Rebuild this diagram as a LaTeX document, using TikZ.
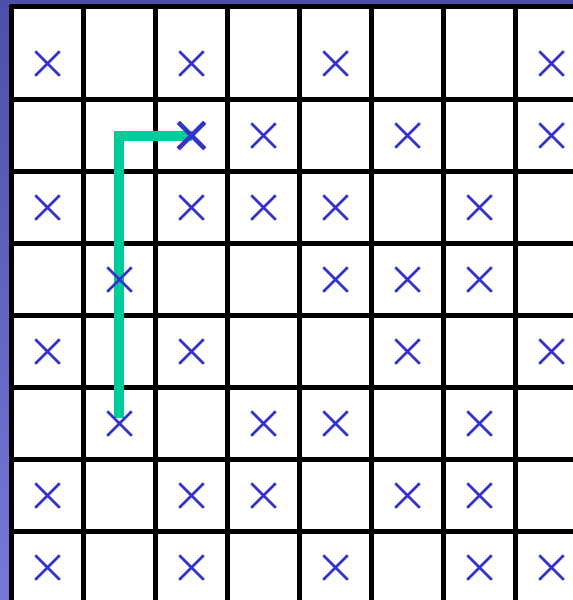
\documentclass[tikz,border=0pt]{standalone}
\usetikzlibrary{shapes.misc}
\definecolor{slidetop}{HTML}{4E4EAC}
\definecolor{slidebottom}{HTML}{7878D8}
\definecolor{markblue}{HTML}{3333CC}
\definecolor{pathgreen}{HTML}{00CC99}
\begin{document}
\begin{tikzpicture}[x=1pt,y=-1pt,
  gridline/.style={line width=4.5pt},
  xmark/.style={cross out,draw=markblue,line width=2.5pt,minimum size=22pt,inner sep=0pt},
  boldmark/.style={xmark,line width=4.5pt},
  pathline/.style={draw=pathgreen,line width=10pt}]
  \useasboundingbox (0,0) rectangle (573,600);
  % slide background
  \shade[top color=slidetop,bottom color=slidebottom] (0,0) rectangle (12,600);
  \fill[slidetop] (0,0) rectangle (573,5);
  \fill[white] (12,5) rectangle (573,600);
  % board
  \foreach \i in {0,...,7}
    \draw[gridline] (11.5+72*\i,5) -- (11.5+72*\i,600);
  \draw[gridline] (9.5,6.5) -- (573,6.5);
  \foreach \j in {0,...,7}
    \draw[gridline] (9.5,99.5+72*\j) -- (573,99.5+72*\j);
  % cell centres
  \foreach \r in {1,...,8}
    \foreach \c in {1,...,8}
      \coordinate (c-\r-\c) at (47.5+72*\c-72,63.5+72*\r-72);
  % path
  \coordinate (start) at ([xshift=-1pt,yshift=6pt]c-6-2);
  \draw[pathline] (start) |- (c-2-3);
  % marks
  \foreach \r/\cl in {1/{1,3,5,8},2/{4,6,8},3/{1,3,4,5,7},4/{2,5,6,7},
                      5/{1,3,6,8},6/{2,4,5,7},7/{1,3,4,6,7},8/{1,3,5,7,8}}{
    \foreach \c in \cl {
      \node[xmark] (m-\r-\c) at (c-\r-\c) {};
    }
  }
  \node[boldmark] (m-2-3) at (c-2-3) {};
\end{tikzpicture}
\end{document}
